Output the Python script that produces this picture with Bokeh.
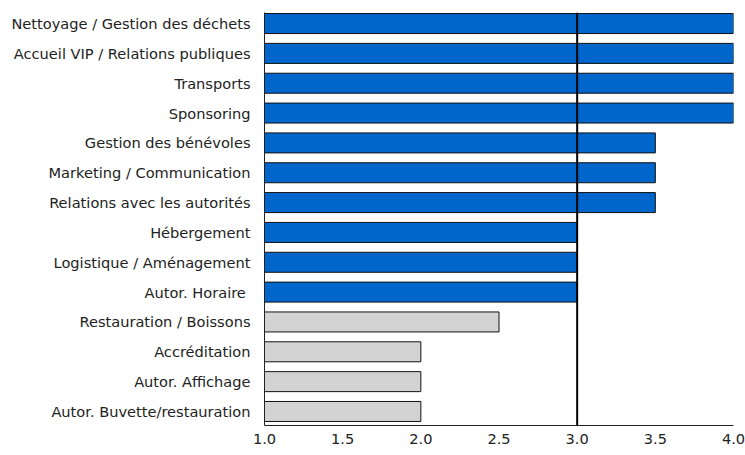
from bokeh.plotting import figure
from bokeh.models import Range1d, FixedTicker, Span, ColumnDataSource
from bokeh.embed import file_html
from bokeh.resources import INLINE

categories = [
    "Nettoyage / Gestion des déchets",
    "Accueil VIP / Relations publiques",
    "Transports",
    "Sponsoring",
    "Gestion des bénévoles",
    "Marketing / Communication",
    "Relations avec les autorités",
    "Hébergement",
    "Logistique / Aménagement",
    "Autor. Horaire ",
    "Restauration / Boissons",
    "Accréditation",
    "Autor. Affichage",
    "Autor. Buvette/restauration",
]
values = [4.0, 4.0, 4.0, 4.0, 3.5, 3.5, 3.5, 3.0, 3.0, 3.0, 2.5, 2.0, 2.0, 2.0]
threshold = 3.0
x_ticks = [1.0, 1.5, 2.0, 2.5, 3.0, 3.5, 4.0]

BLUE = "#0066CC"
GREY = "#D3D3D3"
colors = [BLUE if v >= threshold else GREY for v in values]
ypos = list(range(len(categories)))

src = ColumnDataSource(dict(y=ypos, right=values, left=[1.0] * len(values), color=colors))

p = figure(width=745, height=452, output_backend="svg", toolbar_location=None,
           x_range=Range1d(1.0, 4.0), y_range=Range1d(13.47, -0.37),
           min_border_left=264, min_border_right=12, min_border_top=12, min_border_bottom=27)

p.hbar(y="y", left="left", right="right", height=0.67, source=src,
       fill_color="color", line_color="#111111", line_width=1)

p.add_layout(Span(location=threshold, dimension="height", line_color="black", line_width=2))

p.xgrid.visible = False
p.ygrid.visible = False
p.outline_line_color = None

p.yaxis.ticker = FixedTicker(ticks=ypos)
p.yaxis.major_label_overrides = {i: c for i, c in enumerate(categories)}
p.xaxis.ticker = FixedTicker(ticks=x_ticks)
p.xaxis.major_label_overrides = {t: f"{t:.1f}" for t in x_ticks}

for ax in (p.xaxis[0], p.yaxis[0]):
    ax.major_tick_line_color = None
    ax.minor_tick_line_color = None
    ax.axis_line_color = "#222222"
    ax.axis_line_width = 1
    ax.major_label_text_font = "DejaVu Sans"
    ax.major_label_text_font_size = "14.6px"
    ax.major_label_text_color = "#222222"

p.yaxis.major_label_standoff = 8
p.xaxis.major_label_standoff = 2

open("out.html", "w").write(file_html(p, INLINE))
